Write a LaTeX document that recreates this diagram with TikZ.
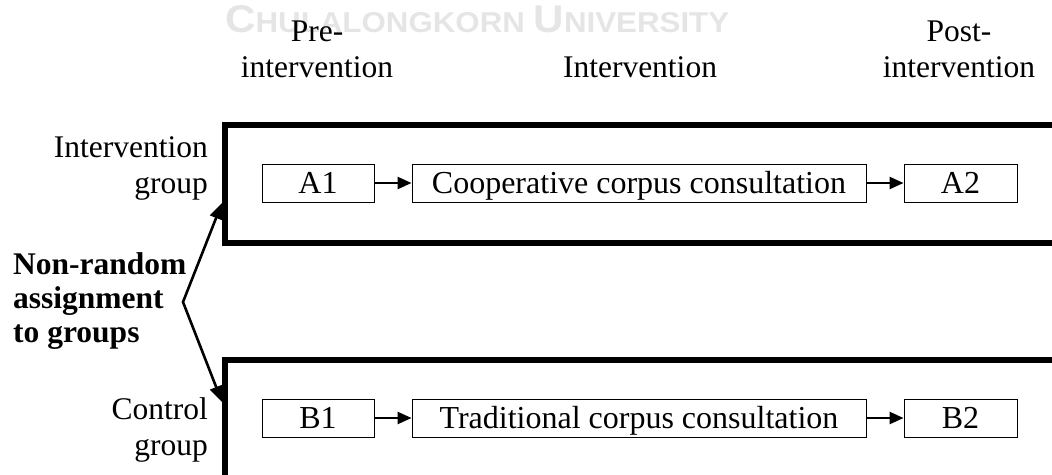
\documentclass[tikz,border=0pt]{standalone}
\usepackage{fontspec}
\setmainfont{Liberation Serif}
\newfontfamily\wmfont{Liberation Sans}
\usetikzlibrary{arrows.meta}
\tikzset{
  lbl/.style={inner sep=0pt, font=\fontsize{31.5}{36}\selectfont},
  boldlbl/.style={inner sep=0pt, font=\fontsize{31.5}{34}\selectfont\bfseries},
  stagebox/.style={draw, line width=0.9pt, inner xsep=0pt, inner ysep=2pt, text height=27pt, text depth=7pt, font=\fontsize{32}{36}\selectfont},
  groupframe/.style={line width=6pt},
  flow/.style={line width=2.5pt, -{Triangle[length=14pt,width=12pt]}},
  assign/.style={line width=2.6pt, {Triangle[length=16pt,width=13pt]}-{Triangle[length=16pt,width=13pt]}},
}
\begin{document}
\begin{tikzpicture}[x=1pt,y=-1pt]
\useasboundingbox (0,0) rectangle (1052,474);
\clip (0,0) rectangle (1052,474);
% watermark
\node[anchor=base west, inner sep=0pt, text=black!10] (wm) at (225,32)
  {\resizebox{504pt}{27pt}{\wmfont\bfseries{\fontsize{37.7}{38}\selectfont C}{\fontsize{28}{28}\selectfont HULALONGKORN\ }{\fontsize{37.7}{38}\selectfont U}{\fontsize{28}{28}\selectfont NIVERSITY}}};
% column headings
\node[lbl, align=center, anchor=base] (hpre) at (317,77) {Pre-\\intervention};
\node[lbl, anchor=base] (hint) at (640,77) {Intervention};
\node[lbl, align=center, anchor=base] (hpost) at (959,77) {Post-\\intervention};
% group frames
\draw[groupframe] (1070,125) -- (224.5,125) -- (224.5,242.5) -- (1070,242.5);
\draw[groupframe] (1070,359.5) -- (224.5,359.5) -- (224.5,490);
% group labels
\node[lbl, align=right, anchor=base east] (gint) at (208,193) {Intervention\\group};
\node[lbl, align=right, anchor=base east] (gctl) at (208,455) {Control\\group};
% assignment
\node[boldlbl, align=left, anchor=base west] (assignlbl) at (13,342) {Non-random\\assignment\\to groups};
\coordinate (v) at (183,302);
\coordinate (tipA) at (222,203);
\coordinate (tipB) at (222,402);
\draw[assign] (tipA) -- (v) -- (tipB);
% stage boxes row A
\node[stagebox, minimum width=112pt] (a1) at (318,183) {A1};
\node[stagebox, minimum width=454pt] (coop) at (639,183) {Cooperative corpus consultation};
\node[stagebox, minimum width=113pt] (a2) at (960.5,183) {A2};
\draw[flow] (a1) -- (coop);
\draw[flow] (coop) -- (a2);
% stage boxes row B
\node[stagebox, minimum width=112pt] (b1) at (318,418) {B1};
\node[stagebox, minimum width=454pt] (trad) at (639,418) {Traditional corpus consultation};
\node[stagebox, minimum width=113pt] (b2) at (960.5,418) {B2};
\draw[flow] (b1) -- (trad);
\draw[flow] (trad) -- (b2);
\end{tikzpicture}
\end{document}
